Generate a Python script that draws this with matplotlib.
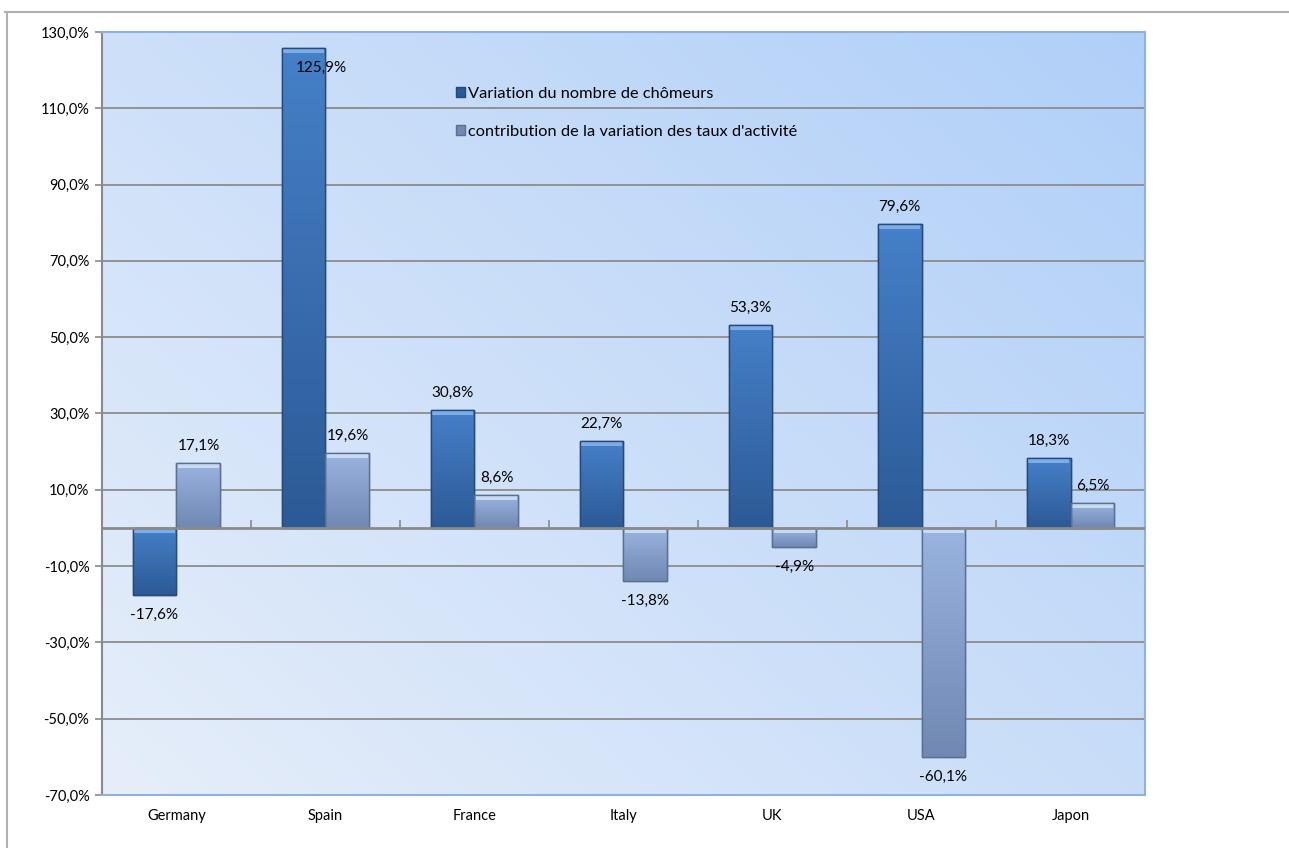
import numpy as np
import matplotlib
matplotlib.use('Agg')
import matplotlib.pyplot as plt
from matplotlib.lines import Line2D
from matplotlib.colors import LinearSegmentedColormap
from matplotlib.patches import Rectangle

# - Data
countries = ['Germany', 'Spain', 'France', 'Italy', 'UK', 'USA', 'Japon']
var_chomeurs = [-17.6, 125.9, 30.8, 22.7, 53.3, 79.6, 18.3]
contrib_activite = [17.1, 19.6, 8.6, -13.8, -4.9, -60.1, 6.5]
series_names = ['Variation du nombre de chômeurs',
                "contribution de la variation des taux d'activité"]
y_ticks = list(range(-70, 131, 20))

plt.rcParams['font.family'] = ['Lato', 'DejaVu Sans']

fig = plt.figure(figsize=(12.89, 8.48), dpi=100)
ax = fig.add_axes([0.0791, 0.0625, 0.8092, 0.8998])

x = np.arange(len(countries))
width = 0.295

# - Plot area background: diagonal gradient
bg_cmap = LinearSegmentedColormap.from_list('bg', ['#e6eefa', '#b0cff8'])
gx, gy = np.meshgrid(np.linspace(0, 1, 200), np.linspace(0, 1, 200))
grad = (gx * 0.55 + gy * 0.45)
ax.imshow(grad, extent=[-0.5, 6.5, -70, 130], origin='lower', cmap=bg_cmap,
          aspect='auto', zorder=0, interpolation='bicubic')

# - Gridlines
for t in y_ticks:
    ax.axhline(t, color='#8c8c8c', lw=1.3, zorder=1)

styles = [
    dict(top='#4680c8', bottom='#2c5a96', edge='#26497a', bevel='#86b6f0'),
    dict(top='#9ab4e0', bottom='#7088b2', edge='#5b6f8f', bevel='#d2e3f8'),
]


def gradient_bars(ax, xs, vals, st, label):
    bars = ax.bar(xs, vals, width, color=st['bottom'], edgecolor=st['edge'],
                  lw=1.0, zorder=3, label=label)
    cmap = LinearSegmentedColormap.from_list('b', [st['bottom'], st['top']])
    for b in bars:
        x0 = b.get_x()
        x1 = x0 + b.get_width()
        y0 = min(b.get_y(), b.get_y() + b.get_height())
        y1 = max(b.get_y(), b.get_y() + b.get_height())
        g = np.linspace(0, 1, 100).reshape(-1, 1)
        im = ax.imshow(g, extent=[x0, x1, y0, y1], origin='lower', cmap=cmap,
                       aspect='auto', zorder=3.5)
        im.set_clip_path(b)
        # - top bevel
        ax.add_patch(Rectangle((x0 + 0.01, y1 - 1.3), x1 - x0 - 0.02, 1.3,
                               color=st['bevel'], lw=0, zorder=3.8,
                               alpha=0.85))
        ax.add_patch(Rectangle((x0, y0), x1 - x0, y1 - y0, fill=False,
                               edgecolor=st['edge'], lw=1.0, zorder=4))
    return bars


b1 = gradient_bars(ax, x - width / 2, var_chomeurs, styles[0], series_names[0])
b2 = gradient_bars(ax, x + width / 2, contrib_activite, styles[1],
                   series_names[1])


def fmt(v):
    return f'{v:.1f}%'.replace('.', ',')


# - Data labels
for xs, vals in ((x - width / 2, var_chomeurs), (x + width / 2, contrib_activite)):
    for xi, v in zip(xs, vals):
        if v > 120:
            ax.text(xi + 0.12, v - 5.3, fmt(v), ha='center', va='center',
                    fontsize=11, zorder=6)
        elif v >= 0:
            ax.text(xi, v + 4.5, fmt(v), ha='center', va='center',
                    fontsize=11, zorder=6)
        else:
            ax.text(xi, v - 5.2, fmt(v), ha='center', va='center',
                    fontsize=11, zorder=6)

# - Zero axis with category separators
ax.axhline(0, color='#8a8a8a', lw=2.0, zorder=5)
sec = ax.secondary_xaxis(70 / 200)
sec.set_xticks(np.arange(0.5, len(countries) - 1, 1.0))
sec.set_xticklabels([])
sec.tick_params(direction='in', length=6, width=1.2, color='#8a8a8a')
sec.spines['bottom'].set_visible(False)
sec.spines['top'].set_visible(False)

ax.set_xlim(-0.5, len(countries) - 0.5)
ax.set_ylim(-70, 130)
ax.set_yticks(y_ticks)
ax.set_yticklabels([fmt(t) for t in y_ticks], fontsize=10.5)
ax.set_xticks(x)
ax.set_xticklabels(countries, fontsize=10.5)
ax.tick_params(axis='x', length=0, pad=10)
ax.tick_params(axis='y', length=5, width=1.2, color='#8a8a8a', pad=4)

for s in ('top', 'right', 'bottom'):
    ax.spines[s].set_color('#8fb1df')
    ax.spines[s].set_linewidth(1.5)
ax.spines['left'].set_color('#8a8a8a')
ax.spines['left'].set_linewidth(1.5)

# - Legend
leg = ax.legend(loc='upper left', bbox_to_anchor=(0.325, 0.947),
                frameon=False, fontsize=11.8, handlelength=0.55,
                handleheight=0.55, handletextpad=0.2, labelspacing=1.45)

# - Outer chart border
fig.add_artist(Line2D([5 / 1289, 1.0], [1 - 12 / 848, 1 - 12 / 848],
                      color='#b0b0b0', lw=1.5))
fig.add_artist(Line2D([7 / 1289, 7 / 1289], [0, 1 - 12 / 848],
                      color='#b0b0b0', lw=1.5))

plt.savefig('out.png', dpi=100)
plt.close()
